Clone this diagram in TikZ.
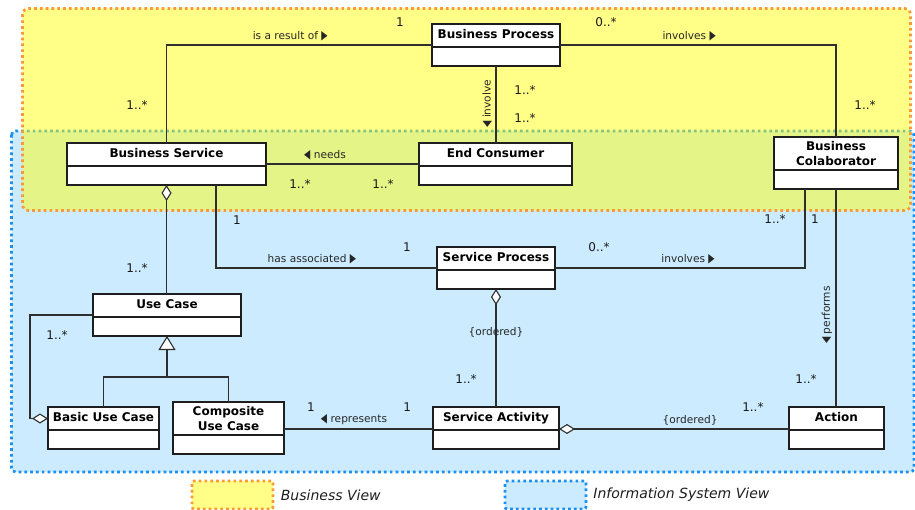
\documentclass[tikz,border=0pt]{standalone}
\usepackage{fontspec}
\setmainfont{DejaVu Sans}
\usetikzlibrary{arrows.meta,positioning}
\definecolor{bizfill}{HTML}{FFFF00}
\definecolor{bizedge}{HTML}{F99A38}
\definecolor{isfill}{HTML}{CCEBFE}
\definecolor{isedge}{HTML}{1C8FF0}
\definecolor{ink}{HTML}{1E1E1E}
\definecolor{wire}{HTML}{2E2E2E}
% small direction markers next to association names
\newcommand\dirR{\scalebox{0.65}[1]{\fontsize{12.5}{12}\selectfont ▶}}
\newcommand\dirL{\scalebox{0.65}[1]{\fontsize{12.5}{12}\selectfont ◀}}
\tikzset{
  viewedge/.style={line width=2.7pt,dash pattern=on 2.7pt off 3.1pt},
  clshead/.style={draw=ink,line width=1.2pt,fill=white,outer sep=0pt,inner sep=0pt,
    align=center,minimum height=23pt,font=\fontsize{12}{14.3}\selectfont\bfseries},
  clstitle/.style={clshead,text height=9pt,text depth=2.5pt},
  clsbody/.style={draw=ink,line width=1.2pt,fill=white,outer sep=0pt,inner sep=0pt,
    minimum height=19pt},
  assoc/.style={draw=wire,line width=1.1pt},
  aggstart/.style={assoc,{Diamond[fill=white,length=16pt,width=10pt]}-},
  aggend/.style={assoc,-{Diamond[fill=white,length=16pt,width=10pt]}},
  genend/.style={assoc,-{Triangle[fill=white,length=14pt,width=17pt]}},
  role/.style={font=\fontsize{10.6}{12}\selectfont,text=black!85},
  mult/.style={font=\fontsize{12}{14}\selectfont,text=black!90},
  keybox/.style={viewedge,rounded corners=2pt,minimum width=81pt,minimum height=28pt,inner sep=0pt},
  keytext/.style={font=\fontsize{14}{16}\selectfont\itshape,text=ink}
}
\begin{document}
\begin{tikzpicture}[x=1pt,y=-1pt]
  \useasboundingbox (0,0) rectangle (915,510);
  % the two views
  \fill[isfill,rounded corners=4pt] (11.5,131) rectangle (914,472);
  \draw[viewedge,isedge,rounded corners=4pt] (11.5,131) rectangle (914,472);
  \fill[bizfill,fill opacity=0.47,rounded corners=6pt] (22.5,8.5) rectangle (910.5,210.5);
  \draw[viewedge,bizedge,rounded corners=6pt] (22.5,8.5) rectangle (910.5,210.5);

  % classes
  \node[clstitle,minimum width=128pt] (bp) at (496,35.5) {Business Process};
  \node[clsbody,minimum width=128pt,below=0pt of bp] (bpb) {};
  \node[clstitle,minimum width=199pt] (bs) at (166.5,154.5) {Business Service};
  \node[clsbody,minimum width=199pt,below=0pt of bs] (bsb) {};
  \node[clstitle,minimum width=153pt] (ec) at (495.5,154.5) {End Consumer};
  \node[clsbody,minimum width=153pt,below=0pt of ec] (ecb) {};
  \node[clshead,minimum width=124pt,minimum height=33pt] (bc) at (836,153.5) {Business\\Colaborator};
  \node[clsbody,minimum width=124pt,below=0pt of bc] (bcb) {};
  \node[clstitle,minimum width=118pt] (sp) at (496,258.5) {Service Process};
  \node[clsbody,minimum width=118pt,below=0pt of sp] (spb) {};
  \node[clstitle,minimum width=148pt] (uc) at (167,305.5) {Use Case};
  \node[clsbody,minimum width=148pt,below=0pt of uc] (ucb) {};
  \node[clstitle,minimum width=111pt] (buc) at (103.5,418.5) {Basic Use Case};
  \node[clsbody,minimum width=111pt,below=0pt of buc] (bucb) {};
  \node[clshead,minimum width=111pt,minimum height=33pt] (cuc) at (228.5,418.5) {Composite\\Use Case};
  \node[clsbody,minimum width=111pt,below=0pt of cuc] (cucb) {};
  \node[clstitle,minimum width=126pt] (sa) at (496,418.5) {Service Activity};
  \node[clsbody,minimum width=126pt,below=0pt of sa] (sab) {};
  \node[clstitle,minimum width=95pt] (act) at (836.5,418.5) {Action};
  \node[clsbody,minimum width=95pt,below=0pt of act] (actb) {};

  % business view associations
  \draw[assoc] ([yshift=2pt]bp.south west) -| (bs.north)
    node[role,pos=0.267,above] {is a result of \dirR}
    node[mult,pos=0,xshift=-32pt,yshift=23pt] {1}
    node[mult,pos=0.806,xshift=-29.5pt] {1..*};
  \draw[assoc] ([yshift=2pt]bp.south east) -| (bc.north)
    node[role,pos=0.234,above] {involves \dirR}
    node[mult,pos=0,xshift=46pt,yshift=23pt] {0..*}
    node[mult,pos=0.826,xshift=29pt] {1..*};
  \draw[assoc] (bpb.south) -- (bpb.south |- ec.north)
    node[role,pos=0.49,rotate=90,above] {\dirL\ involve}
    node[mult,pos=0.31,xshift=29pt] {1..*}
    node[mult,pos=0.675,xshift=29pt] {1..*};
  \draw[assoc] ([yshift=2pt]ec.south west) -- ([yshift=2pt]bs.south east)
    node[role,pos=0.614,above] {\dirL\ needs}
    node[mult,pos=0.235,yshift=-20pt] {1..*}
    node[mult,pos=0.778,yshift=-20pt] {1..*};

  % information system view associations
  \draw[aggstart] (bsb.south) -- (bsb.south |- uc.north)
    node[mult,pos=0.764,xshift=-29.5pt] {1..*};
  \draw[assoc] ([xshift=49.5pt]bsb.south) |- ([yshift=2pt]sp.south west)
    node[role,pos=0.717,above] {has associated \dirR}
    node[mult,pos=0.214,xshift=21pt] {1}
    node[mult,pos=1,xshift=-30pt,yshift=21pt] {1};
  \draw[assoc] ([yshift=2pt]sp.south east) -| ([xshift=-31pt]bcb.south)
    node[role,pos=0.266,above] {involves \dirR}
    node[mult,pos=0,xshift=44pt,yshift=21pt] {0..*}
    node[mult,pos=0.81,xshift=-30pt] {1..*};
  \draw[assoc] (bcb.south) -- (bcb.south |- act.north)
    node[role,pos=0.578,rotate=90,above] {\dirL\ performs}
    node[mult,pos=0.138,xshift=-21pt] {1}
    node[mult,pos=0.872,xshift=-30pt] {1..*};
  \draw[aggstart] (spb.south) -- (sa.north)
    node[role,pos=0.364] {\{ordered\}}
    node[mult,pos=0.763,xshift=-30pt] {1..*};
  \draw[aggstart] ([yshift=1pt]sa.south east) -- ([yshift=1pt]act.south west)
    node[role,pos=0.57,above] {\{ordered\}}
    node[mult,pos=0.843,yshift=22pt] {1..*};
  \draw[assoc] ([yshift=1pt]sa.south west) -- ([yshift=1pt]sa.south west -| cuc.east)
    node[role,pos=0.53,above] {\dirL\ represents}
    node[mult,pos=0.174,yshift=22pt] {1}
    node[mult,pos=0.819,yshift=22pt] {1};
  \draw[aggend] ([yshift=2pt]uc.south west) -- ++(-63,0)
    |- node[mult,pos=0.097,xshift=27pt] {1..*} (buc.west);

  % use case specialisation
  \coordinate (gjoin) at (167,377);
  \draw[assoc] (buc.north) |- (gjoin) -| (cuc.north);
  \draw[genend] (gjoin) -- (ucb.south);

  % legend
  \node[keybox,fill=bizfill!47,draw=bizedge] (bizkey) at (232.5,495) {};
  \node[keytext,right=3pt of bizkey] (biztext) {Business View};
  \node[keybox,fill=isfill,draw=isedge] (iskey) at (545.5,495) {};
  \node[keytext,right=2.5pt of iskey] (istext) {Information System View};
\end{tikzpicture}
\end{document}
